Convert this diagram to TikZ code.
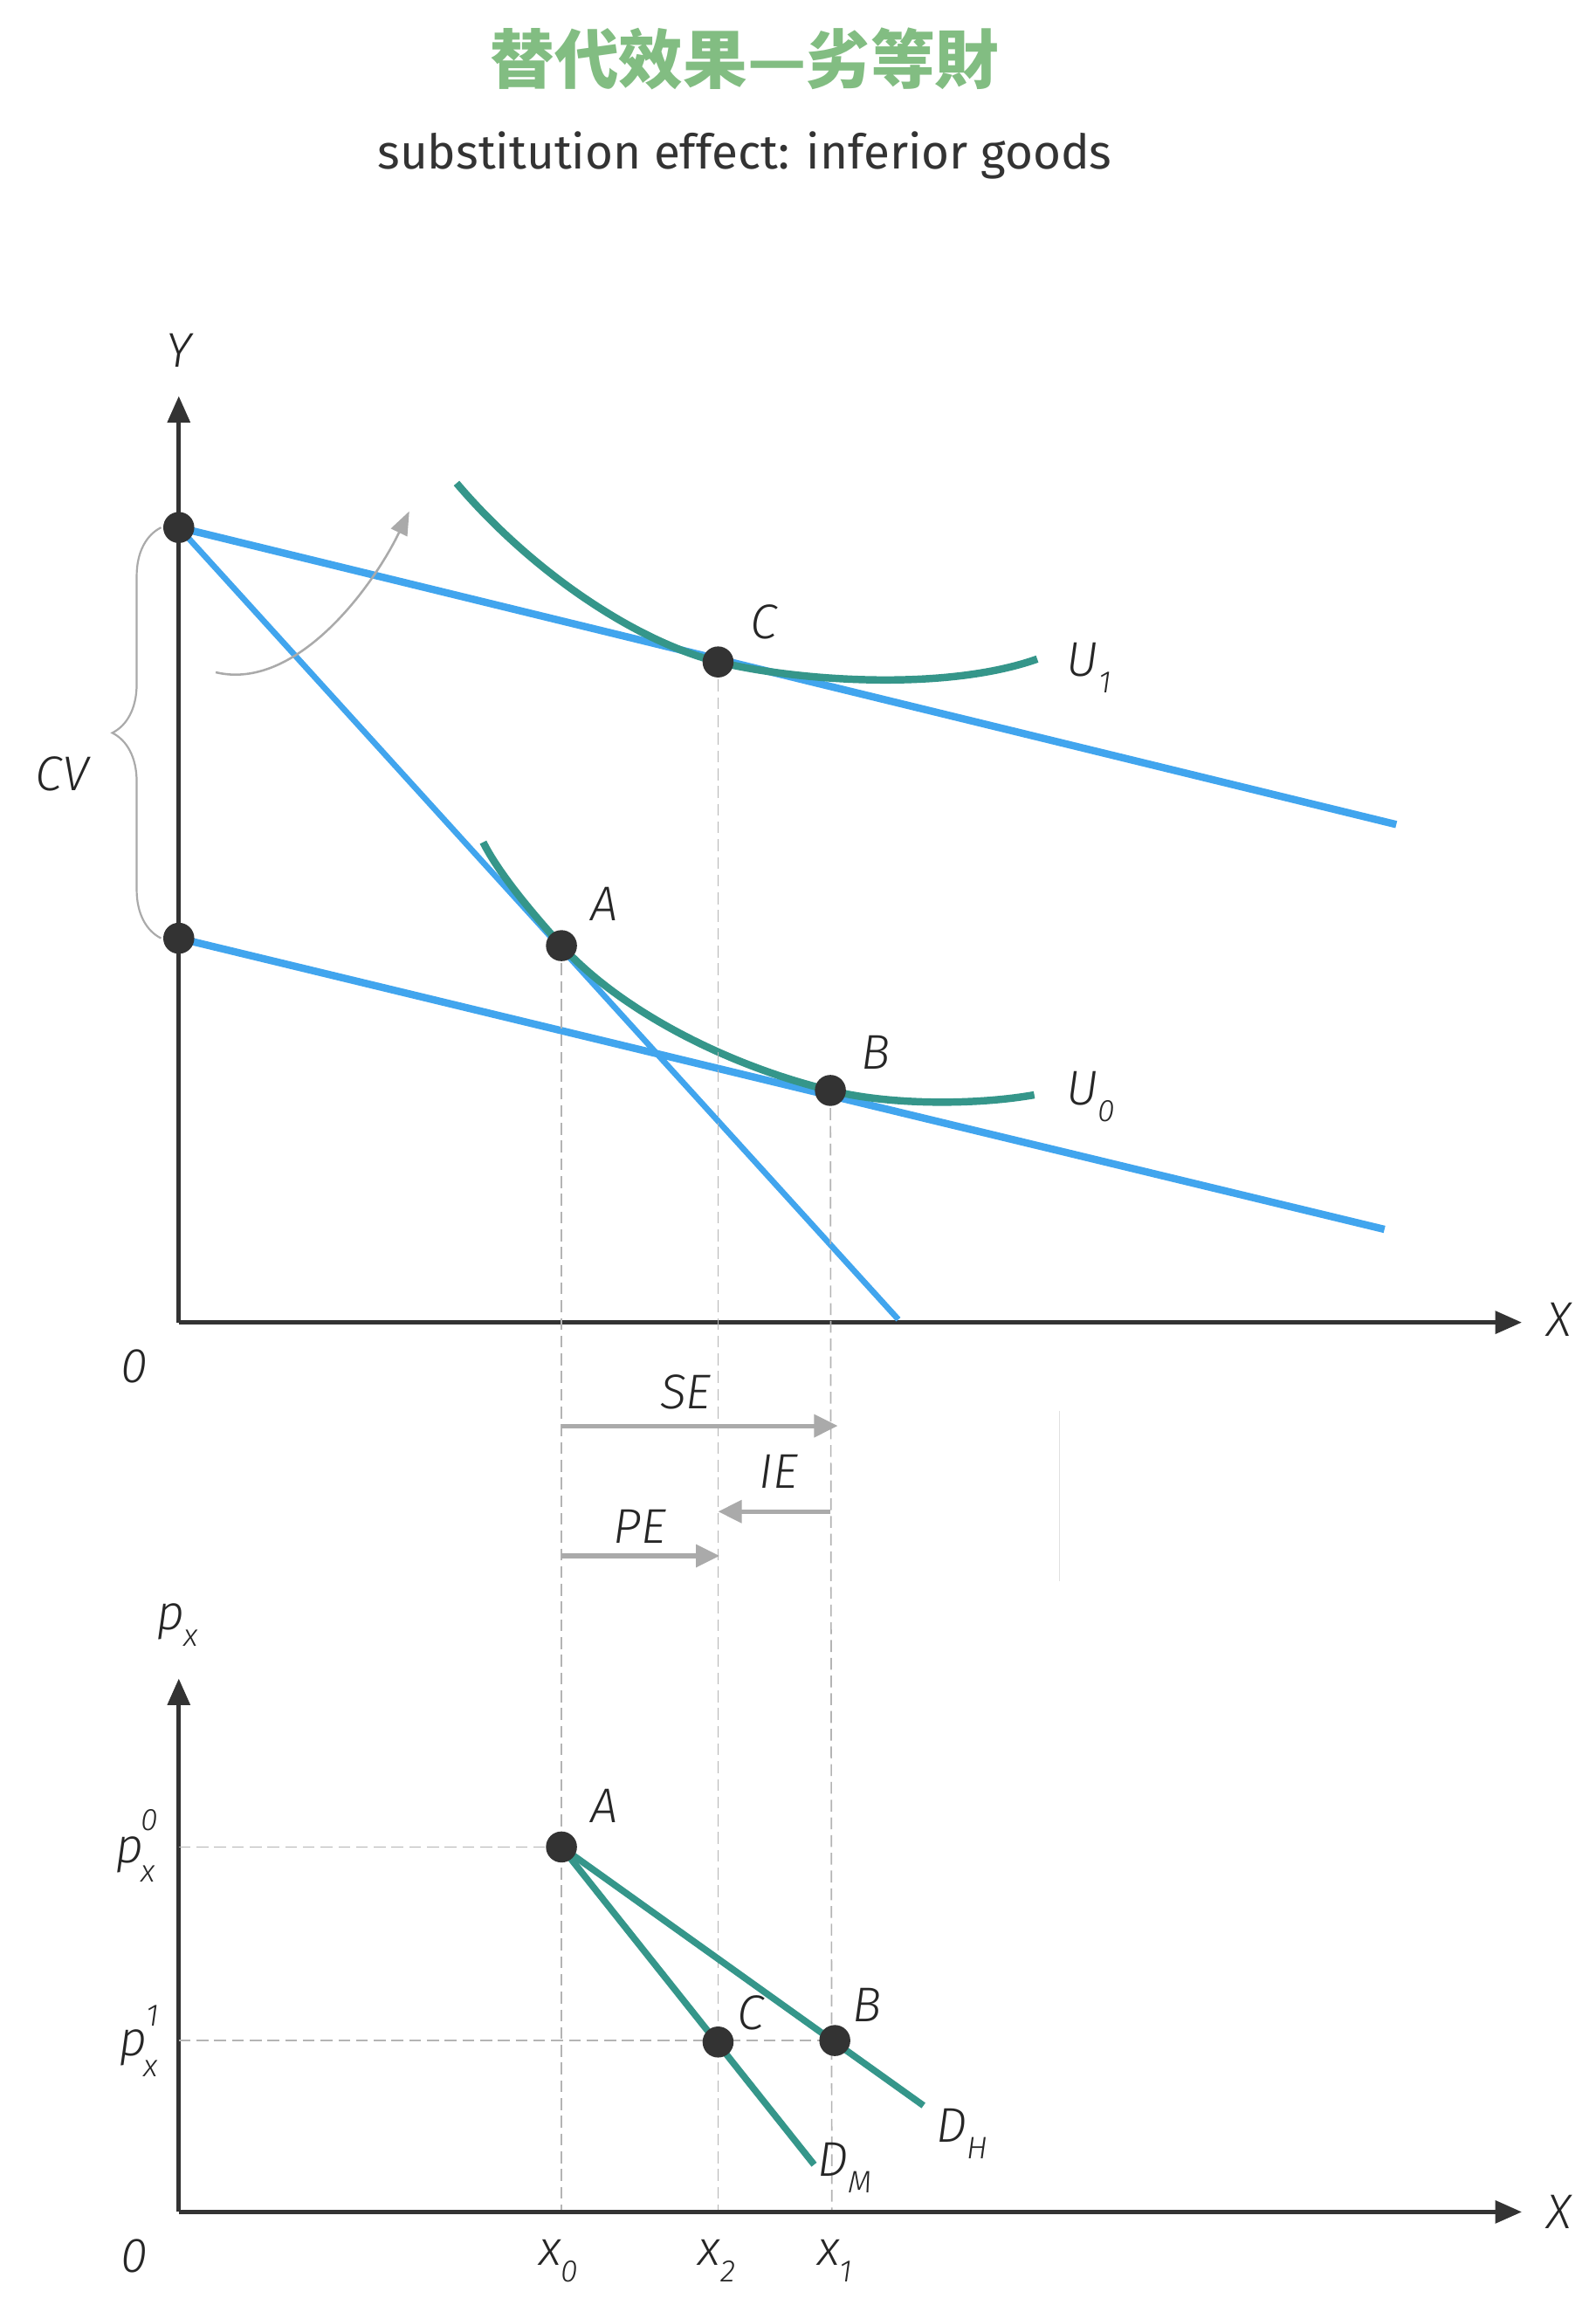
\documentclass[tikz,border=0pt]{standalone}
\usepackage{fontspec}
\setmainfont{Fira Sans}
\newfontfamily\lightf{Fira Sans Light}
\newfontfamily\cjk{Noto Sans CJK TC}
\usetikzlibrary{arrows.meta,decorations.pathreplacing}
\definecolor{dark}{HTML}{333333}
\definecolor{bline}{HTML}{41A5EE}
\definecolor{teal}{HTML}{35968A}
\definecolor{garrow}{HTML}{AAAAAA}
\definecolor{gdash}{HTML}{B4B4B4}
\definecolor{titlegreen}{HTML}{82BD82}
\newcommand\sub[1]{\raisebox{-0.34em}{\fontsize{21}{21}\selectfont #1}}
\tikzset{
  lab/.style={font=\lightf\fontsize{33}{33}\selectfont\itshape, text=black!85, inner sep=0pt},
  small/.style={font=\lightf\fontsize{21}{21}\selectfont\itshape, text=black!85, inner sep=0pt},
  axis/.style={draw=dark, line width=3pt, -{Triangle[length=18pt,width=15pt]}},
  budget/.style={draw=bline, line width=5pt},
  steepbudget/.style={draw=bline, line width=4pt},
  indiff/.style={draw=teal, line width=5pt},
  demand/.style={draw=teal, line width=4.5pt},
  guide/.style={draw=gdash, line width=1pt, dash pattern=on 8pt off 4pt},
  effect/.style={draw=garrow, line width=3pt, -{Triangle[length=16pt,width=15pt]}},
  dot/.style={circle, fill=dark, minimum size=21pt, inner sep=0pt},
}
\begin{document}
\begin{tikzpicture}[x=1pt,y=-1pt]
\useasboundingbox[fill=white] (0,0) rectangle (1080,1560);

% titles
\node[font=\cjk\bfseries\fontsize{43.5}{43.5}\selectfont, text=titlegreen] (title) at (504,40) {替代效果—劣等財};
\node[font=\fontsize{32.4}{32.4}\selectfont, text=dark] (subtitle) at (504,105) {substitution effect: inferior goods};

% ===== upper panel =====
\coordinate (O1) at (121,895);
\coordinate (Ytip) at (121,268);
\coordinate (X1tip) at (1030,895);
\draw[axis] (O1) -- (Ytip);
\draw[axis] (O1) -- (X1tip);
\node[lab] (Ylab) at (121,237) {Y};
\node[lab] (X1lab) at (1055,893) {X};
\node[lab] (O1lab) at (91,925) {0};

% budget lines
\coordinate (I1) at (121,357);
\coordinate (I0) at (121,635);
\coordinate (Uend) at (945,558);
\coordinate (Lend) at (937,832);
\coordinate (Send) at (608,893);
\coordinate (Cp) at (486,448);
\coordinate (Ap) at (380,640);
\coordinate (Bp) at (562,738);

\draw[steepbudget] (I1) -- (Send);
\draw[budget] (I1) -- (Uend);
\draw[budget] (I0) -- (Lend);

% indifference curves
\draw[indiff] (309,327) .. controls (360,387) and (430,434) .. (Cp)
  .. controls (540,461) and (640,468) .. (702,446);
\draw[indiff] (327,570) .. controls (338,592) and (362,620) .. (Ap)
  .. controls (420,684) and (492,721) .. (Bp)
  .. controls (602,748) and (660,748) .. (700,741);

% dashed guides
\coordinate (x0b) at (380,1497);
\coordinate (x2b) at (486,1497);
\coordinate (x1b) at (563,1497);
\draw[guide] (Ap) -- (x0b);
\draw[guide] (Cp) -- (x2b);
\draw[guide] (Bp) -- (x1b);

% points
\node[dot] (I1dot) at (I1) {};
\node[dot] (I0dot) at (I0) {};
\node[dot] (Cdot) at (Cp) {};
\node[dot] (Adot) at (Ap) {};
\node[dot] (Bdot) at (Bp) {};
\node[lab] (Clab) at (517,421) {C};
\node[lab] (Alab) at (409,612) {A};
\node[lab] (Blab) at (593,712) {B};
\node[lab] (U1lab) at (737,452) {U\sub{1}};
\node[lab] (U0lab) at (738,742) {U\sub{0}};

% rotation arrow
\coordinate (rs) at (146,455);
\coordinate (re) at (277,346);
\draw[draw=garrow, line width=1.5pt, -{Triangle[length=16pt,width=12pt]}] (rs) .. controls (200,468) and (252,398) .. (re);

% brace CV
\coordinate (brb) at (109,635);
\coordinate (brt) at (109,357);
\draw[draw=garrow, line width=1.3pt, decorate, decoration={brace, amplitude=33pt, aspect=0.5}] (brb) -- (brt);
\node[lab] (CVlab) at (42,524) {CV};

% effects
\coordinate (SEs) at (380,965);
\coordinate (SEe) at (567,965);
\coordinate (IEs) at (562,1023);
\coordinate (IEe) at (486,1023);
\coordinate (PEs) at (380,1053);
\coordinate (PEe) at (487,1053);
\draw[effect] (SEs) -- (SEe);
\draw[effect] (IEs) -- (IEe);
\draw[effect] (PEs) -- (PEe);
\node[lab] (SElab) at (464,942) {SE};
\node[lab] (IElab) at (527,996) {IE};
\node[lab] (PElab) at (433,1033) {PE};

% faint separator line
\coordinate (sepT) at (717,955);
\coordinate (sepB) at (717,1070);
\draw[draw=black!12, line width=1pt] (sepT) -- (sepB);

% ===== lower panel =====
\coordinate (O2) at (121,1497);
\coordinate (Ptip) at (121,1136);
\coordinate (X2tip) at (1030,1497);
\draw[axis] (O2) -- (Ptip);
\draw[axis] (O2) -- (X2tip);
\node[lab] (Plab) at (120,1100) {p\sub{x}};
\node[lab] (X2lab) at (1055,1497) {X};
\node[lab] (O2lab) at (91,1527) {0};

\coordinate (A2) at (380,1250);
\coordinate (C2) at (486,1382);
\coordinate (B2) at (565,1381);
\coordinate (DMend) at (551,1465);
\coordinate (DHend) at (625,1425);
\coordinate (p0ax) at (121,1250);
\coordinate (p1ax) at (121,1381);
\draw[guide] (p0ax) -- (A2);
\draw[guide] (p1ax) -- (B2);
\draw[demand] (A2) -- (DMend);
\draw[demand] (A2) -- (DHend);
\node[dot] (A2dot) at (A2) {};
\node[dot] (C2dot) at (C2) {};
\node[dot] (B2dot) at (B2) {};
\node[lab] (A2lab) at (409,1222) {A};
\node[lab] (C2lab) at (508,1362) {C};
\node[lab] (B2lab) at (587,1357) {B};
\node[lab] (DMlab) at (572,1467) {D\sub{M}};
\node[lab] (DHlab) at (651,1444) {D\sub{H}};

% price labels
\node[lab] (p0) at (88,1255) {p};
\node[small] (p0sup) at (101,1232) {0};
\node[small] (p0sub) at (100,1268) {x};
\node[lab] (p1) at (90,1386) {p};
\node[small] (p1sup) at (103,1364) {1};
\node[small] (p1sub) at (102,1400) {x};

% quantity labels
\node[lab] (x0lab) at (378,1530) {x\sub{0}};
\node[lab] (x2lab) at (485,1530) {x\sub{2}};
\node[lab] (x1lab) at (565,1530) {x\sub{1}};
\end{tikzpicture}
\end{document}
